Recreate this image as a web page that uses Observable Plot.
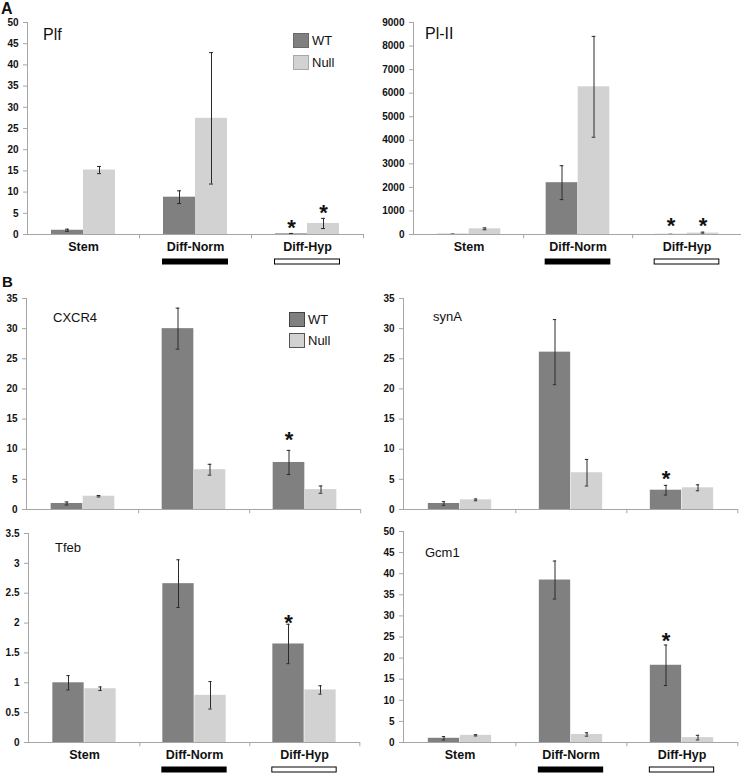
<!DOCTYPE html>
<html><head><meta charset="utf-8">
<script src="https://cdn.jsdelivr.net/npm/d3@7"></script>
<script src="https://cdn.jsdelivr.net/npm/@observablehq/plot@0.6"></script>
<style>
body{margin:0;background:#fff;font-family:"Liberation Sans",Arial,sans-serif;}
#fig{position:relative;width:741px;height:773px;overflow:hidden;background:#fff;}
.panel{position:absolute;}
.txt{position:absolute;line-height:1;white-space:nowrap;color:#111;}
.sw{position:absolute;box-sizing:border-box;}
</style></head>
<body><div id="fig"></div>
<script>
// ---------- data ----------
const categories = ["Stem", "Diff-Norm", "Diff-Hyp"];
const series = ["WT", "Null"];
const underlineCategories = ["Diff-Norm", "Diff-Hyp"];
const hollowCategories = ["Diff-Hyp"];

// Plf
const plfWT = [1.0, 8.8, 0.15];
const plfWTErr = [0.25, 1.5, 0.1];
const plfNull = [15.2, 27.4, 2.6];
const plfNullErr = [0.85, 15.5, 1.2];
const plfStars = [{category: "Diff-Hyp", series: "WT", y: 3.0}, {category: "Diff-Hyp", series: "Null", y: 6.5}];
const plfTicks = [0, 5, 10, 15, 20, 25, 30, 35, 40, 45, 50];

// Pl-II
const pl2WT = [10, 2200, 5];
const pl2WTErr = [5, 720, 3];
const pl2Null = [240, 6270, 60];
const pl2NullErr = [40, 2140, 40];
const pl2Stars = [{category: "Diff-Hyp", series: "WT", y: 610}, {category: "Diff-Hyp", series: "Null", y: 610}];
const pl2Ticks = [0, 1000, 2000, 3000, 4000, 5000, 6000, 7000, 8000, 9000];

// CXCR4
const cxWT = [1.0, 30.0, 7.8];
const cxWTErr = [0.25, 3.4, 2.0];
const cxNull = [2.2, 6.6, 3.3];
const cxNullErr = [0.12, 0.9, 0.6];
const cxStars = [{category: "Diff-Hyp", series: "WT", y: 12.5}];
const cxTicks = [0, 5, 10, 15, 20, 25, 30, 35];

// synA
const synWT = [1.0, 26.1, 3.2];
const synWTErr = [0.3, 5.4, 0.8];
const synNull = [1.6, 6.1, 3.6];
const synNullErr = [0.15, 2.2, 0.5];
const synStars = [{category: "Diff-Hyp", series: "WT", y: 6.1}];
const synTicks = [0, 5, 10, 15, 20, 25, 30, 35];

// Tfeb
const tfWT = [1.0, 2.66, 1.65];
const tfWTErr = [0.12, 0.40, 0.33];
const tfNull = [0.9, 0.79, 0.88];
const tfNullErr = [0.03, 0.23, 0.07];
const tfStars = [{category: "Diff-Hyp", series: "WT", y: 2.11}];
const tfTicks = [0, 0.5, 1, 1.5, 2, 2.5, 3, 3.5];

// Gcm1
const gcWT = [1.0, 38.5, 18.3];
const gcWTErr = [0.4, 4.5, 4.8];
const gcNull = [1.7, 1.9, 1.15];
const gcNullErr = [0.15, 0.4, 0.55];
const gcStars = [{category: "Diff-Hyp", series: "WT", y: 25.4}];
const gcTicks = [0, 5, 10, 15, 20, 25, 30, 35, 40, 45, 50];

// ---------- styles ----------
const WT_COLOR = "#808080";
const NULL_COLOR = "#d2d2d2";
const ERR_COLOR = "#2a2a2a";
const AXIS_COLOR = "#a6a6a6";
const FONT = "'Liberation Sans', Arial, sans-serif";
const BAR_W = 32;

const fig = document.getElementById("fig");

function addText(text, left, top, size, weight) {
  const d = document.createElement("div");
  d.className = "txt";
  d.textContent = text;
  d.style.left = left + "px";
  d.style.top = top + "px";
  d.style.fontSize = size + "px";
  if (weight) d.style.fontWeight = weight;
  fig.appendChild(d);
}

function addLegend(left, top, gap, textLeft, textSize, borders) {
  series.forEach((s, i) => {
    const b = document.createElement("div");
    b.className = "sw";
    b.style.left = left + "px";
    b.style.top = (top + i * gap) + "px";
    b.style.width = "16px";
    b.style.height = "15px";
    b.style.background = i === 0 ? WT_COLOR : NULL_COLOR;
    b.style.border = "1px solid " + borders[i];
    fig.appendChild(b);
    addText(s, textLeft, top + i * gap + 7.5 - 0.49 * textSize, textSize);
  });
}

function panel(wt, wtErr, nul, nulErr, stars, ticks, box) {
  const {left, top, width, height, ml, mr, mt, mb, labels} = box;
  const bw = (width - ml - mr) / categories.length;
  const yMax = ticks[ticks.length - 1];
  const rows = categories.map((c, i) => ({category: c, wt: wt[i], we: wtErr[i], nu: nul[i], ne: nulErr[i]}));
  const capInset = bw / 2 - 2;
  const marks = [
    Plot.barY(rows, {x: "category", y: "wt", fill: WT_COLOR, insetLeft: bw / 2 - BAR_W, insetRight: bw / 2}),
    Plot.barY(rows, {x: "category", y: "nu", fill: NULL_COLOR, insetLeft: bw / 2, insetRight: bw / 2 - BAR_W}),
    Plot.ruleX(rows, {x: "category", y1: d => Math.max(0, d.wt - d.we), y2: d => d.wt + d.we, dx: -BAR_W / 2, stroke: ERR_COLOR, strokeWidth: 1}),
    Plot.ruleX(rows, {x: "category", y1: d => Math.max(0, d.nu - d.ne), y2: d => d.nu + d.ne, dx: BAR_W / 2, stroke: ERR_COLOR, strokeWidth: 1}),
    Plot.tickY(rows, {x: "category", y: d => d.wt + d.we, dx: -BAR_W / 2, insetLeft: capInset, insetRight: capInset, stroke: ERR_COLOR}),
    Plot.tickY(rows, {x: "category", y: d => Math.max(0, d.wt - d.we), dx: -BAR_W / 2, insetLeft: capInset, insetRight: capInset, stroke: ERR_COLOR}),
    Plot.tickY(rows, {x: "category", y: d => d.nu + d.ne, dx: BAR_W / 2, insetLeft: capInset, insetRight: capInset, stroke: ERR_COLOR}),
    Plot.tickY(rows, {x: "category", y: d => Math.max(0, d.nu - d.ne), dx: BAR_W / 2, insetLeft: capInset, insetRight: capInset, stroke: ERR_COLOR}),
    Plot.ruleY([0], {stroke: AXIS_COLOR}),
    Plot.frame({anchor: "left", stroke: AXIS_COLOR}),
    Plot.ruleX(categories, {x: d => d, dx: bw / 2, y1: 0, y2: -yMax * 0.02, stroke: AXIS_COLOR}),
    Plot.axisY({ticks, tickFormat: d => String(d), tickSize: 4, tickPadding: 5, fontSize: 10, fontWeight: "bold", stroke: AXIS_COLOR, fill: "#111", label: null}),
    Plot.text(stars.filter(s => s.series === "WT"), {x: "category", y: "y", text: () => "*", dx: -BAR_W / 2, dy: 6, fontSize: 22, fontWeight: "bold", fill: "#111", lineAnchor: "middle"}),
    Plot.text(stars.filter(s => s.series === "Null"), {x: "category", y: "y", text: () => "*", dx: BAR_W / 2, dy: 6, fontSize: 22, fontWeight: "bold", fill: "#111", lineAnchor: "middle"})
  ];
  if (labels) {
    marks.push(
      Plot.axisX({tickSize: 0, tickPadding: 8, fontSize: 12.5, fontWeight: "bold", fill: "#111", label: null}),
      Plot.tickY(underlineCategories, {x: d => d, y: () => 0, dy: 27, insetLeft: bw / 2 - BAR_W - 1, insetRight: bw / 2 - BAR_W - 1, stroke: "#000", strokeWidth: 6}),
      Plot.tickY(hollowCategories, {x: d => d, y: () => 0, dy: 27, insetLeft: bw / 2 - BAR_W, insetRight: bw / 2 - BAR_W, stroke: "#fff", strokeWidth: 4})
    );
  }
  const p = Plot.plot({
    width, height,
    marginLeft: ml, marginRight: mr, marginTop: mt, marginBottom: mb,
    x: {domain: categories, padding: 0, axis: labels ? undefined : null, label: null},
    y: {domain: [0, yMax], label: null},
    style: {fontFamily: FONT, background: "transparent", overflow: "visible", color: "#111"},
    marks
  });
  const wrap = document.createElement("div");
  wrap.className = "panel";
  wrap.style.left = left + "px";
  wrap.style.top = top + "px";
  wrap.style.width = width + "px";
  wrap.style.height = height + "px";
  wrap.appendChild(p);
  fig.appendChild(wrap);
}

panel(plfWT, plfWTErr, plfNull, plfNullErr, plfStars, plfTicks,
  {left: 0, top: 0, width: 370, height: 270, ml: 27, mr: 7, mt: 22, mb: 36, labels: true});
panel(pl2WT, pl2WTErr, pl2Null, pl2NullErr, pl2Stars, pl2Ticks,
  {left: 370, top: 0, width: 371, height: 270, ml: 43, mr: 0, mt: 22, mb: 36, labels: true});
panel(cxWT, cxWTErr, cxNull, cxNullErr, cxStars, cxTicks,
  {left: 0, top: 270, width: 370, height: 250, ml: 26, mr: 10, mt: 28, mb: 11, labels: false});
panel(synWT, synWTErr, synNull, synNullErr, synStars, synTicks,
  {left: 370, top: 270, width: 371, height: 250, ml: 33, mr: 3, mt: 28, mb: 11, labels: false});
panel(tfWT, tfWTErr, tfNull, tfNullErr, tfStars, tfTicks,
  {left: 0, top: 520, width: 370, height: 253, ml: 28, mr: 10, mt: 13, mb: 31, labels: true});
panel(gcWT, gcWTErr, gcNull, gcNullErr, gcStars, gcTicks,
  {left: 370, top: 520, width: 371, height: 253, ml: 33, mr: 3, mt: 11, mb: 31, labels: true});

// titles and panel letters
addText("A", 1, 1, 16, "bold");
addText("B", 2, 274, 15, "bold");
addText("Plf", 43, 27, 16);
addText("Pl-II", 425, 26, 16);
addText("CXCR4", 53, 311, 13);
addText("synA", 433, 310, 13);
addText("Tfeb", 55, 541, 13);
addText("Gcm1", 425, 546, 13);

// legends
addLegend(293, 33, 22, 312, 13, ["#6a6a6a", "#a8a8a8"]);
addLegend(289, 312, 21, 308, 13, ["#444", "#555"]);
</script></body></html>
